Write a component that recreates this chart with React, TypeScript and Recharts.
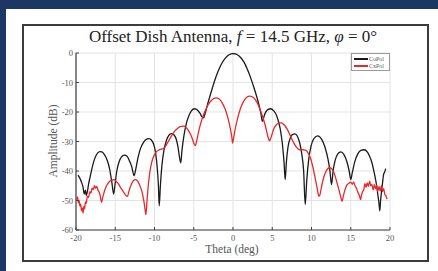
import React from 'react';
import { LineChart, Line, XAxis, YAxis, CartesianGrid } from 'recharts';

const xTicks = [-20, -15, -10, -5, 0, 5, 10, 15, 20];
const yTicks = [-60, -50, -40, -30, -20, -10, 0];

const coTheta = [
  -19.75, -19.5, -19.3, -19.1, -18.95, -18.8, -18.7, -18.55, -18.4, -18.2, -18.0, -17.7, -17.4, -17.0, -16.7, -16.3,
  -16.0, -15.7, -15.45, -15.2, -15.05, -14.8, -14.5, -14.2, -13.85, -13.5, -13.2, -12.9, -12.6, -12.4, -12.1, -11.8,
  -11.4, -11.0, -10.7, -10.4, -10.1, -9.85, -9.65, -9.5, -9.4, -9.25, -9.05, -8.8, -8.5, -8.2, -7.85, -7.5,
  -7.2, -7.0, -6.8, -6.65, -6.5, -6.25, -6.0, -5.7, -5.3, -4.9, -4.5, -4.2, -3.95, -3.75, -3.55, -3.3,
  -3.0, -2.6, -2.2, -1.8, -1.4, -1.0, -0.5, 0, 0.5, 1.0, 1.4, 1.8, 2.2, 2.6, 3.0, 3.3,
  3.55, 3.75, 3.95, 4.3, 4.75, 5.2, 5.6, 6.0, 6.3, 6.5, 6.65, 6.8, 7.0, 7.3, 7.6, 7.9,
  8.2, 8.5, 8.75, 9.0, 9.2, 9.4, 9.65, 9.95, 10.3, 10.8, 11.3, 11.7, 12.1, 12.35, 12.55, 12.75,
  13.0, 13.35, 13.75, 14.1, 14.5, 14.8, 15.0, 15.2, 15.5, 15.9, 16.3, 16.7, 17.1, 17.4, 17.7, 17.9,
  18.1, 18.3, 18.45, 18.6, 18.7, 18.8, 18.9, 19.05, 19.2, 19.3, 19.45,
];
const coAmp = [
  -41.4, -42.5, -43.8, -45.5, -47.8, -46.5, -48.3, -47, -44.5, -42, -39.5, -36.5, -34.5, -33.4, -33.5, -34.8,
  -36.5, -39.5, -43.5, -47.8, -45, -40, -36.8, -35.2, -34.6, -35, -36.5, -38.5, -41.6, -39.5, -35.5, -32.5,
  -30.3, -29.2, -29, -29.5, -31, -34, -39, -45, -51.8, -45, -38, -33, -29.8, -28, -27.3, -27.8,
  -29.5, -32, -35.5, -37.2, -33, -28, -24.5, -21.8, -19.6, -18.9, -19.4, -20.5, -21.6, -22, -20.5, -18,
  -15.2, -11.6, -8.3, -5.6, -3.4, -1.8, -0.6, -0.2, -0.5, -1.6, -3.1, -5.3, -8, -11.2, -14.6, -17.5,
  -20.5, -23.2, -21.5, -19.5, -18.9, -19.6, -21.5, -25.5, -31, -37, -42.9, -37, -32, -28.8, -27.6, -27.4,
  -28.2, -30.5, -34, -40, -51.4, -43, -36, -31.5, -29, -28.1, -29.3, -31.8, -36, -40, -44.6, -40,
  -36.5, -34.2, -33.5, -34.3, -36.8, -40, -42.9, -40.5, -37, -34.2, -33, -32.8, -33.5, -35, -37.2, -39.5,
  -42, -45, -48, -51, -53.5, -50, -47.5, -44, -41, -40.5, -39.2,
];

const cxTheta = [
  -19.9, -19.8, -19.7, -19.6, -19.5, -19.4, -19.3, -19.2, -19.1, -19.0, -18.9, -18.8, -18.7, -18.55, -18.4, -18.25,
  -18.1, -17.95, -17.8, -17.65, -17.5, -17.35, -17.2, -17.05, -16.9, -16.75, -16.6, -16.45, -16.2, -15.95, -15.7, -15.45,
  -15.15, -14.9, -14.6, -14.35, -14.1, -13.85, -13.65, -13.45, -13.25, -13.0, -12.7, -12.4, -12.1, -11.85, -11.6, -11.4,
  -11.25, -11.1, -10.95, -10.8, -10.6, -10.35, -10.1, -9.8, -9.45, -9.1, -8.8, -8.5, -8.2, -7.85, -7.45, -7.0,
  -6.6, -6.3, -6.0, -5.7, -5.4, -5.15, -4.95, -4.8, -4.6, -4.35, -4.05, -3.7, -3.3, -2.9, -2.5, -2.15,
  -1.8, -1.4, -1.0, -0.65, -0.35, -0.15, -0.05, 0.1, 0.3, 0.6, 0.95, 1.35, 1.75, 2.15, 2.6, 3.0,
  3.4, 3.8, 4.15, 4.45, 4.65, 4.85, 5.15, 5.5, 5.85, 6.15, 6.5, 6.9, 7.3, 7.7, 8.1, 8.5,
  8.9, 9.2, 9.5, 9.8, 10.1, 10.4, 10.7, 10.95, 11.1, 11.3, 11.6, 11.95, 12.3, 12.6, 12.9, 13.2,
  13.5, 13.7, 13.9, 14.05, 14.25, 14.5, 14.75, 15.0, 15.2, 15.35, 15.55, 15.75, 15.95, 16.1, 16.25, 16.35,
  16.5, 16.65, 16.8, 16.95, 17.1, 17.25, 17.4, 17.55, 17.7, 17.85, 18.0, 18.15, 18.3, 18.45, 18.6, 18.75,
  18.9, 19.05, 19.2, 19.35, 19.5, 19.6,
];
const cxAmp = [
  -49.7, -48.8, -50.8, -50, -52, -51.2, -53.5, -52.5, -54.3, -52, -52.8, -50.5, -51, -48.5, -49, -47,
  -47.5, -45.8, -46.3, -45, -45.8, -45.2, -46.5, -47.2, -48.6, -50.6, -49, -47.5, -45.5, -44.3, -43.5, -43.2,
  -42.9, -43.5, -44.3, -45.5, -46.5, -47.5, -48.3, -48.6, -46.8, -44.8, -43.3, -42.9, -43.6, -45, -47, -49.5,
  -52, -54.8, -50, -45, -40.5, -37, -35, -33.6, -32.9, -32.6, -32.3, -31.2, -29.8, -28.2, -26.6, -25.4,
  -24.9, -24.8, -25.2, -26.2, -27.6, -29.3, -30.8, -31.4, -29.5, -26.3, -23.3, -20.6, -18.2, -16.5, -15.5, -15.2,
  -15.5, -16.8, -19, -22, -25.5, -28.5, -30.5, -28.5, -25.5, -22, -18.8, -16.4, -15, -14.6, -15.1, -16.5,
  -18.8, -21.8, -25, -28.4, -29.8, -28.6, -26, -24.4, -23.8, -23.7, -24.3, -25.8, -28, -30.3, -32, -32.8,
  -32.8, -32.9, -33.6, -35.2, -37.8, -41.5, -45.5, -48.6, -47.8, -45, -41.8, -39.6, -38.9, -39.3, -40.8, -43.5,
  -46.5, -48.5, -50.3, -48.5, -46.5, -44.8, -44.2, -43.8, -44.5, -43.7, -45, -46, -47.5, -48.3, -49.7, -48.5,
  -47, -46.5, -44.3, -45.5, -44, -45.2, -43.4, -45, -44.5, -46.5, -44.5, -46, -44.8, -47, -45.2, -46.8,
  -45, -47, -46, -48, -48.5, -49.5,
];

const coData = coTheta.map((t, i) => ({ theta: t, amp: coAmp[i] }));
const cxData = cxTheta.map((t, i) => ({ theta: t, amp: cxAmp[i] }));

const FONT = '"Liberation Serif", "DejaVu Serif", serif';
const AXIS = '#404040';
const TICK_FILL = '#555555';

const Empty = () => <g />;

export default function App() {
  return (
    <div style={{ position: 'absolute', left: 0, top: 0, width: 438, height: 271, background: '#1c3764', overflow: 'hidden', fontFamily: FONT }}>
      <div style={{ position: 'absolute', left: 6, top: 9, width: 432, height: 262, background: '#ffffff' }} />
      <div style={{ position: 'absolute', left: 22, top: 24, width: 407, height: 238, border: '2px solid #3c3c3c', boxSizing: 'border-box' }} />
      <div style={{ position: 'absolute', left: 0, top: 27, width: 466, textAlign: 'center', fontSize: 17, color: '#222', whiteSpace: 'nowrap', lineHeight: '20px' }}>
        Offset Dish Antenna, <i>f</i> = 14.5 GHz, <i>φ</i> = 0°
      </div>
      <div style={{ position: 'absolute', left: 0, top: 242, width: 464, textAlign: 'center', fontSize: 11.5, color: '#555', lineHeight: '14px' }}>
        Theta (deg)
      </div>
      <div style={{ position: 'absolute', left: 53, top: 141, width: 0, height: 0 }}>
        <div style={{ position: 'absolute', left: -60, top: -7, width: 120, textAlign: 'center', fontSize: 11.5, color: '#555', lineHeight: '14px', transform: 'rotate(-90deg)', whiteSpace: 'nowrap' }}>
          Amplitude (dB)
        </div>
      </div>
      <div style={{ position: 'absolute', left: 0, top: 0 }}>
        <LineChart width={438} height={271} margin={{ top: 53, right: 48, bottom: 21, left: 46 }} style={{ fontFamily: FONT }}>
          <CartesianGrid stroke="#e3e3e3" strokeWidth={1} horizontalValues={yTicks} verticalValues={xTicks} />
          <XAxis
            dataKey="theta"
            type="number"
            domain={[-20, 20]}
            ticks={xTicks}
            allowDataOverflow
            height={20}
            stroke={AXIS}
            axisLine={{ stroke: AXIS, strokeWidth: 1.2 }}
            tickLine={{ stroke: AXIS }}
            tickSize={-3}
            tickMargin={8}
            fontFamily={FONT}
            tick={{ fill: TICK_FILL, fontSize: 8.5, fontFamily: FONT, style: { fontFamily: FONT } }}
          />
          <XAxis
            xAxisId="top"
            orientation="top"
            type="number"
            domain={[-20, 20]}
            ticks={xTicks}
            height={0}
            axisLine={{ stroke: AXIS, strokeWidth: 1.2 }}
            tickLine={{ stroke: AXIS }}
            tickSize={-3}
            tick={Empty}
          />
          <YAxis
            type="number"
            domain={[-60, 0]}
            ticks={yTicks}
            allowDataOverflow
            width={30}
            axisLine={{ stroke: AXIS, strokeWidth: 1.2 }}
            tickLine={{ stroke: AXIS }}
            tickSize={-3}
            tickMargin={6}
            fontFamily={FONT}
            tick={{ fill: TICK_FILL, fontSize: 8.5, fontFamily: FONT, style: { fontFamily: FONT } }}
          />
          <YAxis
            yAxisId="right"
            orientation="right"
            type="number"
            domain={[-60, 0]}
            ticks={yTicks}
            width={0}
            axisLine={{ stroke: AXIS, strokeWidth: 1.2 }}
            tickLine={{ stroke: AXIS }}
            tickSize={-3}
            tick={Empty}
          />
          <Line data={coData} dataKey="amp" type="monotone" stroke="#1a1a1a" strokeWidth={1.3} dot={false} isAnimationActive={false} />
          <Line data={cxData} dataKey="amp" type="monotone" stroke="#e8282a" strokeWidth={1.3} dot={false} isAnimationActive={false} />
        </LineChart>
      </div>
      <div style={{ position: 'absolute', left: 351, top: 53, width: 39, height: 18, border: '1px solid #9a9a9a', boxSizing: 'border-box', background: '#fff', fontSize: 6, color: '#555', lineHeight: '7px' }}>
        <div style={{ position: 'absolute', left: 2, top: 1.5, display: 'flex', alignItems: 'center' }}>
          <span style={{ display: 'inline-block', width: 14, height: 1.3, background: '#1a1a1a', marginRight: 1 }} />CoPol
        </div>
        <div style={{ position: 'absolute', left: 2, top: 8.5, display: 'flex', alignItems: 'center' }}>
          <span style={{ display: 'inline-block', width: 14, height: 1.3, background: '#e8282a', marginRight: 1 }} />CxPol
        </div>
      </div>
    </div>
  );
}
